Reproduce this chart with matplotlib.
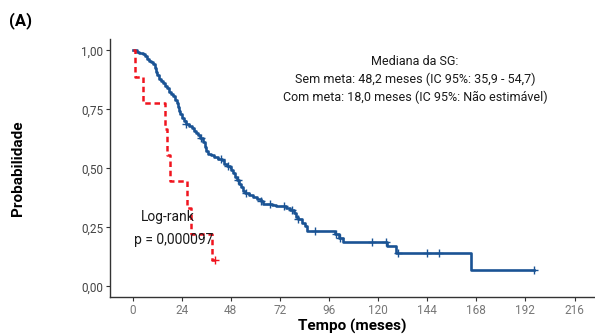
import numpy as np
import matplotlib.pyplot as plt
from matplotlib import font_manager

# Curva de sobrevida global - Kaplan-Meier
sem_meta_t = [0, 2, 3, 5, 6, 7, 8, 9, 10, 11, 11.5, 12, 13, 14, 15, 16, 17, 18, 19, 20,
              21, 21.5, 22, 22.5, 23, 24, 25, 26, 27.5, 29, 30, 31, 32, 33, 34.5, 35.5,
              36, 37, 38.5, 40, 42, 43.5, 44.5, 46, 47.5, 48.2, 49, 50, 51, 52, 53, 54,
              55, 57, 59, 61, 63, 64, 68, 70, 75, 77, 79, 80, 81, 83, 84.5, 85.5, 99,
              101, 103, 124.5, 129, 165.5, 196]
sem_meta_s = [1.0, 0.995, 0.99, 0.985, 0.975, 0.965, 0.955, 0.95, 0.94, 0.925, 0.91,
              0.895, 0.88, 0.87, 0.86, 0.85, 0.84, 0.825, 0.815, 0.805, 0.79, 0.775,
              0.76, 0.745, 0.73, 0.715, 0.70, 0.69, 0.68, 0.67, 0.66, 0.65, 0.64, 0.63,
              0.61, 0.59, 0.575, 0.56, 0.555, 0.55, 0.54, 0.535, 0.52, 0.51, 0.505,
              0.495, 0.48, 0.465, 0.45, 0.435, 0.42, 0.405, 0.395, 0.385, 0.38, 0.37,
              0.36, 0.35, 0.345, 0.34, 0.33, 0.325, 0.31, 0.295, 0.285, 0.27, 0.255,
              0.235, 0.22, 0.205, 0.19, 0.17, 0.14, 0.07, 0.07]
sem_meta_cens = [26, 33.5, 43, 46.5, 51.5, 55.5, 63, 67, 74, 78, 81, 89, 99.5, 101.5,
                 117, 124, 129.5, 144, 150, 196]

com_meta_t = [0, 1.1, 5.2, 15.8, 16.8, 18.2, 26.4, 28.8, 38.6, 40.2]
com_meta_s = [1.0, 8/9, 7/9, 6/9, 5/9, 4/9, 3/9, 2/9, 1/9, 1/9]
com_meta_cens = [40.2]

x_ticks = [0, 24, 48, 72, 96, 120, 144, 168, 192, 216]
y_ticks = [0, 0.25, 0.5, 0.75, 1.0]
y_ticklabels = ['0,00', '0,25', '0,50', '0,75', '1,00']

narrow = 'Liberation Sans Narrow'
names = {f.name for f in font_manager.fontManager.ttflist}
if narrow not in names:
    narrow = 'Roboto'

blue = '#1A5394'
red = '#F0141E'


def surv_at(t, s, tc):
    idx = np.searchsorted(t, tc, side='right') - 1
    return np.asarray(s)[idx]


fig = plt.figure(figsize=(5.95, 3.34), dpi=100)
ax = fig.add_axes([110/595, 37/334, 485/595, 258/334])

ax.step(sem_meta_t, sem_meta_s, where='post', color=blue, lw=1.9)
ax.plot(sem_meta_cens, surv_at(sem_meta_t, sem_meta_s, sem_meta_cens), '+',
        color=blue, ms=6, mew=1.0)
ax.step(com_meta_t, com_meta_s, where='post', color=red, lw=1.8,
        linestyle=(0, (2.2, 1.5)))
ax.plot(com_meta_cens, surv_at(com_meta_t, com_meta_s, com_meta_cens), '+',
        color=red, ms=6, mew=1.0)

ax.set_xlim(-11, 226)
ax.set_ylim(-0.045, 1.048)
ax.set_xticks(x_ticks)
ax.set_yticks(y_ticks)
ax.set_yticklabels(y_ticklabels)
for side in ['top', 'right']:
    ax.spines[side].set_visible(False)
for side in ['left', 'bottom']:
    ax.spines[side].set_color('#333333')
    ax.spines[side].set_linewidth(1.0)
ax.tick_params(axis='x', colors='#333333', labelcolor='#777777', labelsize=8.5,
               length=3, width=0.8, pad=2)
ax.tick_params(axis='y', colors='#333333', labelcolor='#444444', labelsize=8.5,
               length=3, width=0.8, pad=2)
for lab in ax.get_xticklabels() + ax.get_yticklabels():
    lab.set_family(narrow)

ax.text(138, 0.878, 'Mediana da SG:\nSem meta: 48,2 meses (IC 95%: 35,9 - 54,7)\n'
        'Com meta: 18,0 meses (IC 95%: Não estimável)',
        ha='center', va='center', multialignment='center', fontsize=9,
        family=narrow, linespacing=1.45, color='#1a1a1a')
ax.text(17.3, 0.295, 'Log-rank', ha='center', va='center', fontsize=10,
        family=narrow, color='#1a1a1a')
ax.text(20.2, 0.198, 'p = 0,000097', ha='center', va='center', fontsize=10,
        family=narrow, color='#1a1a1a')

fig.text(352/595, 1 - 326/334, 'Tempo (meses)', ha='center', va='center',
         fontsize=11, fontweight='bold', family=narrow)
fig.text(18/595, 1 - 168/334, 'Probabilidade', ha='center', va='center',
         rotation=90, fontsize=11, fontweight='bold', family=narrow)
fig.text(21/595, 1 - 21/334, '(A)', ha='center', va='center',
         fontsize=12, fontweight='bold', family=narrow)

fig.savefig('out.png', dpi=100)
